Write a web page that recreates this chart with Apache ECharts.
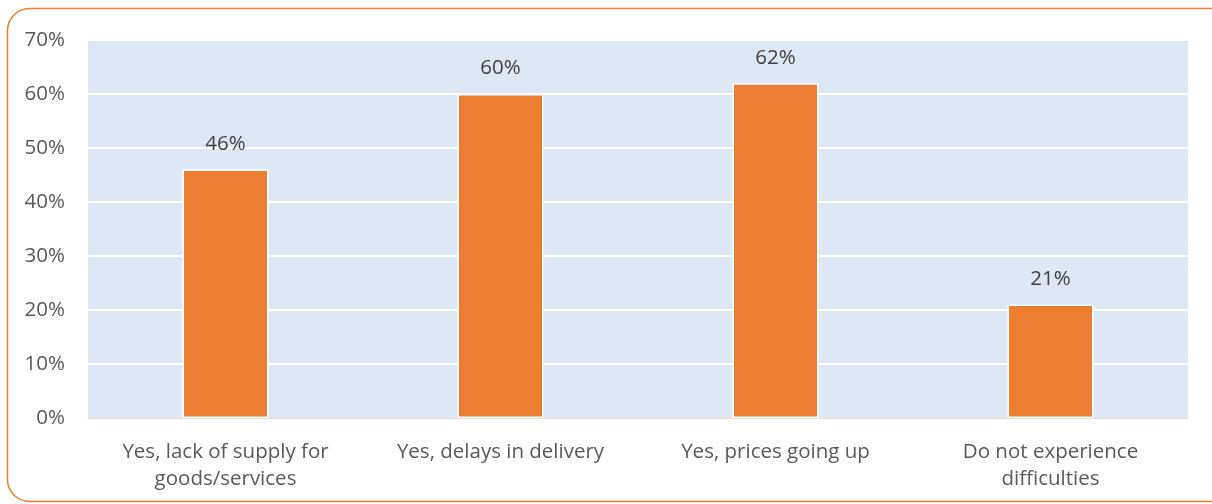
<!DOCTYPE html>
<html><head><meta charset="utf-8">
<script src="https://cdn.jsdelivr.net/npm/echarts@6/dist/echarts.min.js"></script>
<style>html,body{margin:0;padding:0;background:#fff;overflow:hidden}#c{width:1212px;height:504px}</style>
</head><body><div id="c"></div>
<script>
const categories = ["Yes, lack of supply for\ngoods/services", "Yes, delays in delivery", "Yes, prices going up", "Do not experience\ndifficulties"];
const values = [46, 60, 62, 21];
const yTicks = [0, 10, 20, 30, 40, 50, 60, 70];

const chart = echarts.init(document.getElementById('c'), null, {renderer: 'canvas'});
const font = '"Open Sans", "Liberation Sans", sans-serif';
const fs = 20.5;
chart.setOption({
  animation: false,
  graphic: [{
    type: 'rect', shape: {x: 7.5, y: 8.5, width: 1228, height: 493, r: 22},
    style: {fill: 'none', stroke: '#ED7D31', lineWidth: 1.5}, z: 10
  }],
  grid: {left: 88, right: 24, top: 40, bottom: 86, show: true, backgroundColor: '#DEE8F4', borderWidth: 0},
  xAxis: {
    type: 'category', data: categories,
    axisLine: {lineStyle: {color: '#D9D9D9', width: 1.5}},
    axisTick: {show: false},
    axisLabel: {color: '#595959', fontSize: fs, fontFamily: font, lineHeight: 27, margin: 21}
  },
  yAxis: {
    type: 'value', min: yTicks[0], max: yTicks[yTicks.length - 1], interval: 10,
    axisLine: {show: false}, axisTick: {show: false},
    splitLine: {lineStyle: {color: '#FFFFFF', width: 2}},
    axisLabel: {color: '#595959', fontSize: fs, fontFamily: font, margin: 23, formatter: v => v + '%'}
  },
  series: [{
    type: 'bar', data: values, barWidth: 86,
    itemStyle: {color: '#ED7D31', borderColor: '#FFFFFF', borderWidth: 1.5},
    label: {show: true, position: 'top', distance: 15, color: '#404040', fontSize: fs, fontFamily: font, formatter: p => p.value + '%'}
  }]
});
</script></body></html>
